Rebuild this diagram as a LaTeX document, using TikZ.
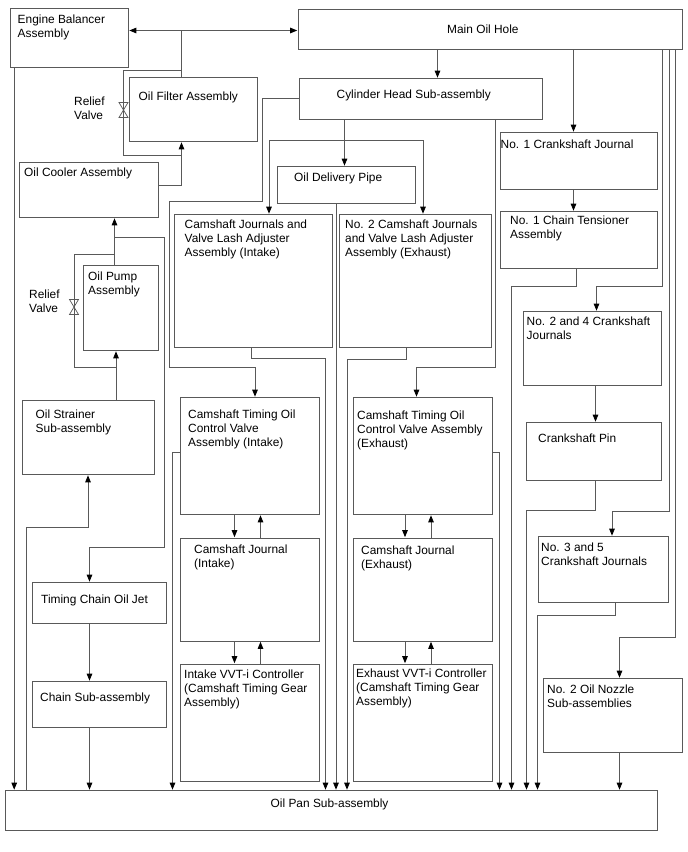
\documentclass[tikz,border=0pt]{standalone}
\usepackage{fontspec}
\setmainfont{Liberation Sans}
\usepackage{xcolor}
\usepackage{tikz}
\usetikzlibrary{arrows.meta, positioning}

\begin{document}
\begin{tikzpicture}[
        x=1pt, y=-1pt,
        every node/.style = {align=left},
        box/.style 2 args = {rectangle, draw=black!65, line width=.9pt, outer sep=0pt,
                      inner sep=0pt, minimum width=#1pt, minimum height=#2pt},
        nw/.style = {anchor=north west},
        txt/.style = {anchor=north west, inner sep=0pt, align=left,
                      font=\fontsize{11.9}{14}\selectfont,
                      execute at begin node=\strut},
        tag/.style n args = {3}{label={[txt, xshift=#1pt, yshift=-#2pt-.5pt]north west:#3}},
        conn/.style  = {draw=black!65, line width=.9pt},
        arrow/.style = {conn, -{Stealth[black, length=7pt, width=5.5pt, inset=0pt]}, shorten >=.8pt},
        both/.style  = {conn, {Stealth[black, length=7pt, width=5.5pt, inset=0pt]}-{Stealth[black, length=7pt, width=5.5pt, inset=0pt]},
                        shorten >=.8pt, shorten <=.8pt},
        valve/.pic = {\draw[draw=black!65, fill=white, line width=.7pt]
                      (-4.5,-7.5) -- (4.5,-7.5) -- (-4.5,7.5) -- (4.5,7.5) -- cycle;}
    ]
    \useasboundingbox (.5,.5) rectangle (688.5,852.5);

    % --- Top row and filter ---
    \node[box={118}{59}, nw, tag={7}{5.5}{Engine Balancer\\Assembly}] (balancer) at (11,9) {};
    \node[box={384.5}{40}, nw, tag={149}{13.5}{Main Oil Hole}] (main) at (298.5,10) {};
    \node[box={243.5}{41}, below=29pt of main.south west, nw, xshift=1pt, tag={37.5}{9.8}{Cylinder Head Sub-assembly}] (head) {};
    \node[box={128}{64}, nw, tag={9}{12.5}{Oil Filter Assembly}] (filter) at (130,78) {};

    % --- Left column, top to bottom ---
    \node[box={139}{55}, below=21pt of filter.south west, nw, xshift=-110pt, tag={4.5}{3.5}{Oil Cooler Assembly}] (cooler) {};
    \node[box={75}{85}, below=48pt of cooler.south west, nw, xshift=64pt, tag={4.5}{5.5}{Oil Pump\\Assembly}] (pump) {};
    \node[box={132}{74}, below=50pt of pump.south west, nw, xshift=-61pt, tag={13}{8.5}{Oil Strainer\\Sub-assembly}] (strainer) {};
    \node[box={134}{41}, below=108pt of strainer.south west, nw, xshift=10pt, tag={8.5}{10.5}{Timing Chain Oil Jet}] (jet) {};
    \node[box={134}{46}, below=58pt of jet.south west, nw, tag={7.5}{9.5}{Chain Sub-assembly}] (chain) {};
    \node[box={651.5}{40}, below=63pt of chain.south west, nw, xshift=-27pt, tag={265}{6}{Oil Pan Sub-assembly}] (pan) {};

    % --- Relief valves ---
    \node[txt] (relief1) at (74.5,97) {Relief\\Valve};
    \node[txt] (relief2) at (29.5,290.5) {Relief\\Valve};
    \pic at (124,110.5) {valve};
    \pic at (74.5,307.5) {valve};

    % --- Camshaft columns ---
    \node[box={138}{37}, below=47pt of head.south west, nw, xshift=-22pt, tag={17}{4.5}{Oil Delivery Pipe}] (pipe) {};
    \node[box={158}{133}, below=11pt of pipe.south west, nw, xshift=-102.5pt, tag={10}{4.5}{Camshaft Journals and\\Valve Lash Adjuster\\Assembly (Intake)}] (camin) {};
    \node[box={151.5}{133}, right=7pt of camin.north east, nw, tag={5.5}{4.5}{No. 2 Camshaft Journals\\and Valve Lash Adjuster\\Assembly (Exhaust)}] (camex) {};
    \node[box={138.5}{117}, below=50pt of camin.south west, nw, xshift=6pt, tag={7.5}{11.5}{Camshaft Timing Oil\\Control Valve\\Assembly (Intake)}] (ctin) {};
    \node[box={138.5}{103}, below=23.5pt of ctin.south west, nw, tag={13.5}{6}{Camshaft Journal\\(Intake)}] (jin) {};
    \node[box={138.5}{117}, below=23pt of jin.south west, nw, tag={3.5}{5}{Intake VVT-i Controller\\(Camshaft Timing Gear\\Assembly)}] (vvtin) {};
    \node[box={139}{117}, below=50pt of camex.south west, nw, xshift=13.5pt, tag={4}{12.5}{Camshaft Timing Oil\\Control Valve Assembly\\(Exhaust)}] (ctex) {};
    \node[box={139}{103}, below=23.5pt of ctex.south west, nw, tag={8}{7}{Camshaft Journal\\(Exhaust)}] (jex) {};
    \node[box={139}{117}, below=23pt of jex.south west, nw, tag={3}{4}{Exhaust VVT-i Controller\\(Camshaft Timing Gear\\Assembly)}] (vvtex) {};

    % --- Crankshaft column ---
    \node[box={157}{57}, below=83pt of main.south west, nw, xshift=202.5pt, tag={0}{5.5}{No. 1 Crankshaft Journal}] (crankone) {};
    \node[box={157}{57}, below=22pt of crankone.south west, nw, tag={9.5}{3.5}{No. 1 Chain Tensioner\\Assembly}] (tensioner) {};
    \node[box={138}{74}, below=43pt of tensioner.south west, nw, xshift=23pt, tag={3}{5}{No. 2 and 4 Crankshaft\\Journals}] (cranktwo) {};
    \node[box={135.5}{58}, below=37pt of cranktwo.south west, nw, xshift=2.5pt, tag={12}{9.5}{Crankshaft Pin}] (pin) {};
    \node[box={130}{65.5}, below=56pt of pin.south west, nw, xshift=12pt, tag={3}{5.5}{No. 3 and 5\\Crankshaft Journals}] (crankthree) {};
    \node[box={138.5}{73.5}, below=76.5pt of crankthree.south west, nw, xshift=5.5pt, tag={3.5}{5.5}{No. 2 Oil Nozzle\\Sub-assemblies}] (nozzle) {};

    % --- Oil supply on the left ---
    \draw[both] ([yshift=-22pt]balancer.north east) -- ([yshift=-21pt]main.north west);
    \draw[conn] ([xshift=52pt]filter.north west) -- ++(0,-47);
    \draw[conn] ([xshift=52pt,yshift=7pt]filter.north west) -- ++(-58.5,0) -- ++(0,85) -- ++(58.5,0);
    \draw[arrow] ([yshift=-23pt]cooler.north east) -| ([xshift=52pt]filter.south west);
    \draw[arrow] ([xshift=31pt]pump.north west) -- ([xshift=95pt]cooler.south west);
    \draw[conn] ([xshift=31pt,yshift=11.5pt]pump.north west) -- ++(-40.5,0) -- ++(0,113) -- ++(42,0);
    \draw[arrow] ([xshift=31pt,yshift=28pt]pump.north west) -| ++(49.5,310) -| ([xshift=57pt]jet.north west);
    \draw[arrow] ([xshift=93.5pt]strainer.north west) -- ([xshift=32.5pt]pump.south west);
    \draw[arrow] ([xshift=21pt]pan.north west) -- ++(0,-263) -| ([xshift=65.5pt]strainer.south west);
    \draw[arrow] ([xshift=57pt]jet.south west) -- ([xshift=57pt]chain.north west);
    \draw[arrow] ([xshift=57pt]chain.south west) -- ([xshift=84pt]pan.north west);
    \draw[arrow] ([xshift=3.7pt]balancer.south west) -- ([xshift=8.7pt]pan.north west);

    % --- Cylinder head and camshaft arrows ---
    \draw[arrow] ([xshift=139.5pt]main.south west) -- ([xshift=138.5pt]head.north west);
    \draw[arrow] ([yshift=-20pt]head.north west) -- ++(-37,0) -- ++(0,102.5) -- ++(-92.5,0) -- ++(0,166) -| ([xshift=74.5pt]ctin.north west);
    \draw[arrow] ([xshift=45.5pt]head.south west) -- ([xshift=67.5pt]pipe.north west);
    \draw[arrow] ([xshift=45.5pt,yshift=-20.5pt]head.south west) -| ([xshift=94.5pt]camin.north west);
    \draw[arrow] ([xshift=45.5pt,yshift=-20.5pt]head.south west) -| ([xshift=83.5pt]camex.north west);
    \draw[arrow] ([xshift=196pt]head.south west) -- ++(0,247.5) -| ([xshift=63.5pt]ctex.north west);
    \draw[arrow] ([xshift=59pt]pipe.south west) -- ([xshift=330.5pt]pan.north west);
    \draw[arrow] ([xshift=76.5pt]camin.south west) -- ++(0,11) -| ([xshift=320pt]pan.north west);
    \draw[arrow] ([xshift=67pt]camex.south west) -- ++(0,12) -| ([xshift=341.5pt]pan.north west);
    \draw[arrow] ([yshift=-54.5pt]ctin.north west) -| ([xshift=167pt]pan.north west);
    \draw[arrow] ([yshift=-54.5pt]ctex.north east) -| ([xshift=494pt]pan.north west);

    % --- Paired arrows between timing boxes ---
    \draw[arrow] ([xshift=54pt]ctin.south west) -- ([xshift=54pt]jin.north west);
    \draw[arrow] ([xshift=80pt]jin.north west) -- ([xshift=80pt]ctin.south west);
    \draw[arrow] ([xshift=54pt]jin.south west) -- ([xshift=54pt]vvtin.north west);
    \draw[arrow] ([xshift=80pt]vvtin.north west) -- ([xshift=80pt]jin.south west);
    \draw[arrow] ([xshift=52pt]ctex.south west) -- ([xshift=52pt]jex.north west);
    \draw[arrow] ([xshift=78pt]jex.north west) -- ([xshift=78pt]ctex.south west);
    \draw[arrow] ([xshift=52pt]jex.south west) -- ([xshift=52pt]vvtex.north west);
    \draw[arrow] ([xshift=78pt]vvtex.north west) -- ([xshift=78pt]jex.south west);

    % --- Crankshaft arrows ---
    \draw[arrow] ([xshift=275.5pt]main.south west) -- ([xshift=73pt]crankone.north west);
    \draw[arrow] ([xshift=73pt]crankone.south west) -- ([xshift=73pt]tensioner.north west);
    \draw[arrow] ([xshift=75.5pt]tensioner.south west) -- ++(0,17.5) -| ([xshift=506pt]pan.north west);
    \draw[arrow] ([xshift=364.5pt]main.south west) -- ++(0,236.5) -| ([xshift=73pt]cranktwo.north west);
    \draw[arrow] ([xshift=371pt]main.south west) -- ++(0,461.5) -| ([xshift=74pt]crankthree.north west);
    \draw[arrow] ([xshift=377pt]main.south west) -- ++(0,587.5) -| ([xshift=76pt]nozzle.north west);
    \draw[arrow] ([xshift=72pt]cranktwo.south west) -- ([xshift=69.5pt]pin.north west);
    \draw[arrow] ([xshift=69.5pt]pin.south west) -- ++(0,30) -| ([xshift=521pt]pan.north west);
    \draw[arrow] ([xshift=77pt]crankthree.south west) -- ++(0,13) -| ([xshift=532pt]pan.north west);
    \draw[arrow] ([xshift=76pt]nozzle.south west) -- ([xshift=614pt]pan.north west);

\end{tikzpicture}
\end{document}
